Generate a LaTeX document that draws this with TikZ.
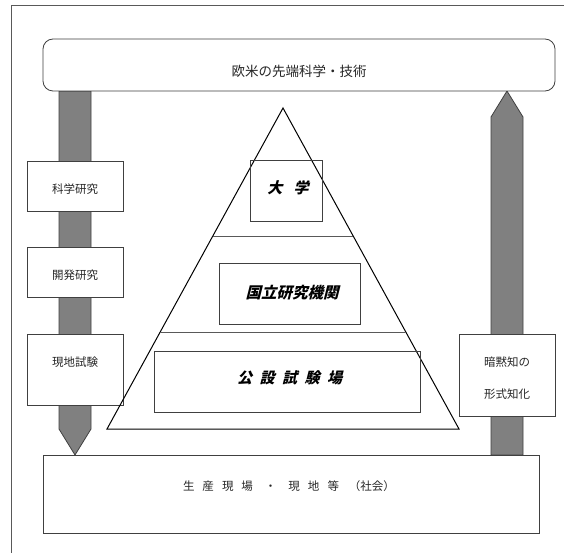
\documentclass[tikz,border=0pt]{standalone}
\usepackage{fontspec}
\newfontfamily\jp{Noto Sans CJK JP}
\newfontfamily\jpbi{Noto Sans CJK JP}[FakeSlant=0.25]
\begin{document}
\begin{tikzpicture}[x=1pt,y=-1pt,
  frameline/.style={draw=black!65, line width=0.9pt},
  box/.style={draw=black!75, fill=white, line width=0.8pt, inner sep=0pt},
  ibox/.style={draw=black!75, line width=0.8pt, inner sep=0pt},
  shaft/.style={draw=black!75, fill=black!50, line width=0.8pt},
  tri/.style={draw=black, line width=1pt},
  divider/.style={draw=black!65, line width=0.8pt},
  lbl/.style={font=\jp\fontsize{11.5}{14}\selectfont, text=black!85, inner sep=0pt},
  toplbl/.style={font=\jp\fontsize{13.5}{16}\selectfont, text=black!85, inner sep=0pt},
  bilbl/.style={font=\jpbi\bfseries\fontsize{15}{18}\selectfont, text=black, inner sep=0pt}]
\useasboundingbox (0,0) rectangle (564,553);
\fill[white] (0,0) rectangle (564,553);
% outer frame (cut by the page on the right and bottom)
\draw[frameline] (564,5) -- (11,5) -- (11,553);

% wide arrows
\draw[shaft] (59,91) -- (91,91) -- (91,429) -- (75,455) -- (59,429) -- cycle;
\draw[shaft] (491,455) -- (491,117) -- (507,91) -- (523,117) -- (523,455) -- cycle;

% side boxes
\node[box, minimum width=96, minimum height=50] (kagaku) at (75,186) {};
\node[lbl] (kagakut) at (75,189) {科学研究};
\node[box, minimum width=96, minimum height=50] (kaihatsu) at (75,272) {};
\node[lbl] (kaihatsut) at (75,275) {開発研究};
\node[box, minimum width=96, minimum height=71] (genchi) at (75,369.5) {};
\node[lbl] (genchit) at (75,362) {現地試験};
\node[box, minimum width=96, minimum height=82] (anmoku) at (507,375) {};
\node[lbl] (anmoku1) at (507,362) {暗黙知の};
\node[lbl] (anmoku2) at (507,394) {形式知化};

% top and bottom boxes
\draw[box, rounded corners=10] (43,39) rectangle (555,91);
\node[toplbl] (top) at (299,71) {欧米の先端科学・技術};
\draw[box] (43,455) rectangle (539,533);
\node[lbl] (bottom) at (289,486) {生\hspace{8pt}産\hspace{8pt}現\hspace{8pt}場\hspace{12pt}・\hspace{12pt}現\hspace{8pt}地\hspace{8pt}等\hspace{10pt}（社会）};

% pyramid
\draw[tri] (283,108) -- (107,429) -- (459,429) -- cycle;
\draw[divider] (212.8,236) -- (353.2,236);
\draw[divider] (160.2,332) -- (405.8,332);

% pyramid labels
\node[ibox, minimum width=72, minimum height=61] (daigaku) at (286,190.5) {};
\node[bilbl] (daigakut) at (288,188) {大\hspace{0.75em}学};
\node[ibox, minimum width=141, minimum height=61] (kokuritsu) at (289.5,293.5) {};
\node[bilbl, font=\jpbi\bfseries\fontsize{15.5}{18}\selectfont] (kokuritsut) at (292,293) {国立研究機関};
\node[ibox, minimum width=266, minimum height=61] (kosetsu) at (287,381.5) {};
\node[bilbl] (kosetsut) at (289.5,378) {公\hspace{7.5pt}設\hspace{7.5pt}試\hspace{7.5pt}験\hspace{7.5pt}場};
\end{tikzpicture}
\end{document}
